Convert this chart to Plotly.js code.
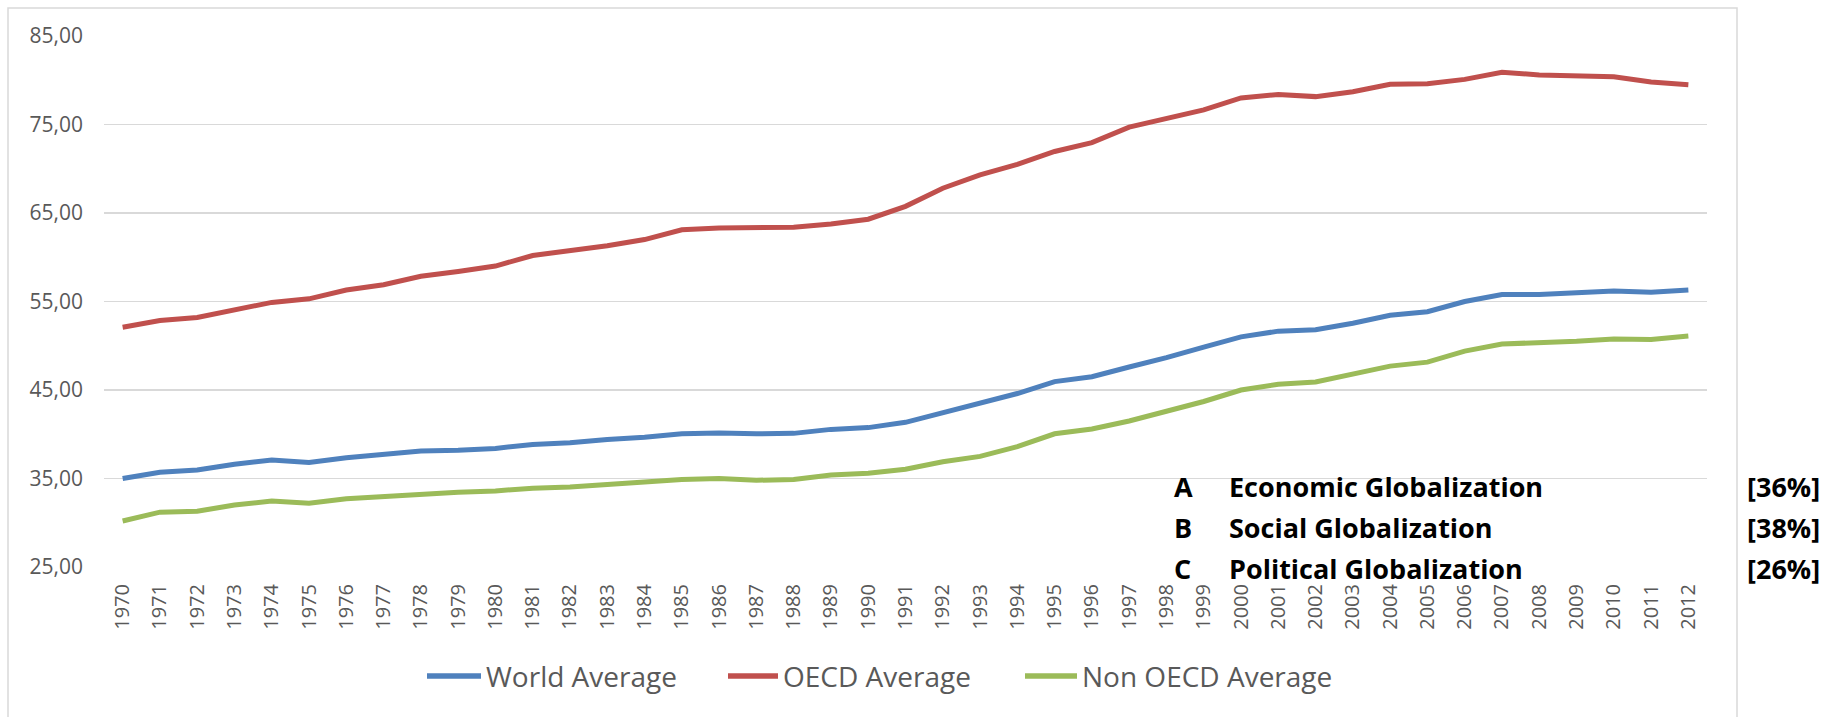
<!DOCTYPE html>
<html>
<head>
<meta charset="utf-8">
<script src="https://cdn.plot.ly/plotly-3.0.1.min.js"></script>
<style>
  html, body { margin: 0; padding: 0; background: #ffffff; }
  #chart { width: 1826px; height: 717px; }
</style>
</head>
<body>
<div id="chart"></div>
<script>
// KOF-style globalization index averages, 1970-2012
const years = ['1970','1971','1972','1973','1974','1975','1976','1977','1978','1979',
               '1980','1981','1982','1983','1984','1985','1986','1987','1988','1989',
               '1990','1991','1992','1993','1994','1995','1996','1997','1998','1999',
               '2000','2001','2002','2003','2004','2005','2006','2007','2008','2009',
               '2010','2011','2012'];

const worldAverage = [35.0, 35.7, 35.95, 36.6, 37.1, 36.8, 37.35, 37.7, 38.1, 38.2,
                      38.4, 38.85, 39.05, 39.4, 39.65, 40.05, 40.15, 40.05, 40.1, 40.55,
                      40.75, 41.35, 42.45, 43.45, 44.6, 45.95, 46.5, 47.6, 48.65, 49.85,
                      51.0, 51.65, 51.8, 52.55, 53.45, 53.85, 55.0, 55.8, 55.8, 56.0,
                      56.2, 56.05, 56.3];

const oecdAverage = [52.1, 52.85, 53.2, 54.0, 54.9, 55.3, 56.3, 56.9, 57.85, 58.4,
                     59.0, 60.2, 60.7, 61.3, 62.0, 63.1, 63.3, 63.3, 63.4, 63.75,
                     64.3, 65.75, 67.8, 69.3, 70.5, 71.95, 72.95, 74.7, 75.7, 76.65,
                     78.0, 78.4, 78.15, 78.7, 79.55, 79.6, 80.1, 80.9, 80.6, 80.45,
                     80.4, 79.8, 79.5];

const nonOecdAverage = [30.2, 31.2, 31.3, 32.0, 32.45, 32.2, 32.7, 32.95, 33.3, 33.45,
                        33.6, 33.9, 34.05, 34.35, 34.6, 34.9, 35.0, 34.8, 34.9, 35.4,
                        35.6, 36.05, 36.9, 37.5, 38.6, 40.05, 40.6, 41.5, 42.6, 43.7,
                        45.0, 45.65, 45.9, 46.75, 47.7, 48.15, 49.4, 50.2, 50.3, 50.5,
                        50.75, 50.7, 51.1];

const seriesNames = ['World Average', 'OECD Average', 'Non OECD Average'];
const seriesColors = ['#4F81BD', '#C0504D', '#9BBB59'];

const componentLetters = ['A', 'B', 'C'];
const componentNames = ['Economic Globalization', 'Social Globalization', 'Political Globalization'];
const componentWeights = ['[36%]', '[38%]', '[26%]'];

const yTicks = [25, 35, 45, 55, 65, 75, 85];

// plot-area geometry in pixels, used to place the legend and the side notes
const M = { l: 104, r: 119, t: 36, b: 150 };
const FIG_W = 1826, FIG_H = 717;
const PW = FIG_W - M.l - M.r, PH = FIG_H - M.t - M.b;
const px = x => (x - M.l) / PW;
const py = y => (M.t + PH - y) / PH;

const FONT = '"Open Sans", "Noto Sans", sans-serif';

const seriesValues = [worldAverage, oecdAverage, nonOecdAverage];
const traces = seriesValues.map((vals, i) => ({
  type: 'scatter',
  mode: 'lines',
  x: years,
  y: vals,
  name: seriesNames[i],
  line: { color: seriesColors[i], width: 5 },
  showlegend: false,
  hoverinfo: 'x+y+name'
}));

// bottom legend, drawn as short line swatches with labels
const legendLineX = [[427, 481], [728, 778], [1025, 1077]];
const legendY = 676;

const shapes = [
  // outer chart frame
  { type: 'rect', xref: 'paper', yref: 'paper',
    x0: px(8), x1: px(1737), y0: py(730), y1: py(8),
    line: { color: '#d9d9d9', width: 1.5 }, fillcolor: 'rgba(0,0,0,0)', layer: 'below' }
];
const annotations = [];

seriesNames.forEach((name, i) => {
  shapes.push({ type: 'line', xref: 'paper', yref: 'paper',
    x0: px(legendLineX[i][0]), x1: px(legendLineX[i][1]),
    y0: py(legendY), y1: py(legendY),
    line: { color: seriesColors[i], width: 5.5 } });
  annotations.push({ xref: 'paper', yref: 'paper',
    x: px(legendLineX[i][1] + 3), y: py(legendY),
    xanchor: 'left', yanchor: 'middle', showarrow: false,
    text: name, font: { family: FONT, size: 28, color: '#595959' } });
});

// index components and their weights
const rowY = [486, 527, 568];
componentLetters.forEach((letter, i) => {
  const f = { family: FONT, size: 27, color: '#000000', weight: 700 };
  annotations.push({ xref: 'paper', yref: 'paper', x: px(1172), y: py(rowY[i]),
    xanchor: 'left', yanchor: 'middle', showarrow: false, text: '<b>' + letter + '</b>', font: f });
  annotations.push({ xref: 'paper', yref: 'paper', x: px(1227), y: py(rowY[i]),
    xanchor: 'left', yanchor: 'middle', showarrow: false, text: '<b>' + componentNames[i] + '</b>', font: f });
  annotations.push({ xref: 'paper', yref: 'paper', x: px(1745), y: py(rowY[i]),
    xanchor: 'left', yanchor: 'middle', showarrow: false, text: '<b>' + componentWeights[i] + '</b>', font: f });
});

const layout = {
  width: FIG_W,
  height: FIG_H,
  autosize: false,
  margin: M,
  paper_bgcolor: '#ffffff',
  plot_bgcolor: '#ffffff',
  separators: ',.',
  showlegend: false,
  xaxis: {
    type: 'category',
    range: [-0.5, years.length - 0.5],
    tickangle: -90,
    showgrid: false,
    showline: false,
    zeroline: false,
    ticks: '',
    ticklabelstandoff: 12,
    tickfont: { family: FONT, size: 20, color: '#595959' },
    fixedrange: true
  },
  yaxis: {
    range: [25, 85],
    tickvals: yTicks,
    tickformat: '.2f',
    showgrid: true,
    gridcolor: '#d9d9d9',
    gridwidth: 1.5,
    zeroline: false,
    showline: false,
    ticks: '',
    ticklabelstandoff: 20,
    tickfont: { family: FONT, size: 21, color: '#595959' },
    fixedrange: true
  },
  shapes: shapes,
  annotations: annotations
};

Plotly.newPlot('chart', traces, layout, { displayModeBar: false, staticPlot: true });
</script>
</body>
</html>
